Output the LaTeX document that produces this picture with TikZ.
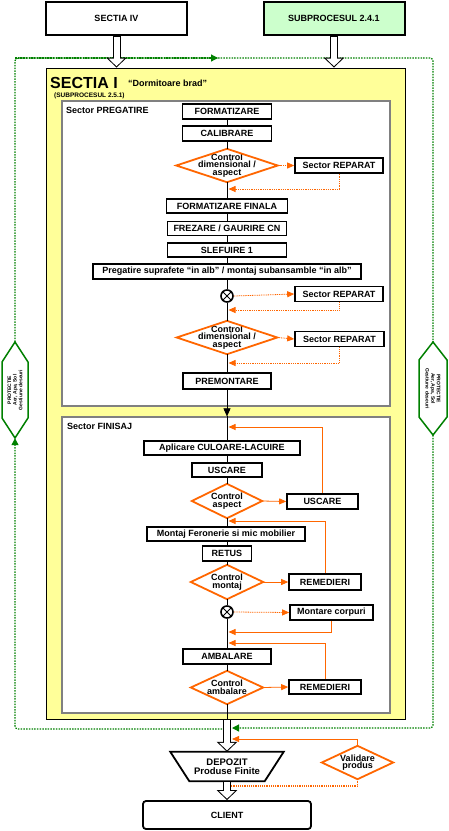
\documentclass[tikz,border=0pt]{standalone}
\usepackage{fontspec}
\setmainfont{Liberation Sans}
\usetikzlibrary{arrows.meta,calc}
\definecolor{oc}{RGB}{255,102,0}
\definecolor{gc}{RGB}{0,128,0}
\definecolor{yel}{RGB}{255,255,153}
\definecolor{lgreen}{RGB}{204,255,204}
\newcommand{\hollowarr}[2]{%
 \draw[line width=8pt, -{Triangle[length=10pt,width=20pt]}] (#1) -- (#2);
 \draw[line width=6pt, white, shorten <=1pt, shorten >=1.41pt, -{Triangle[length=7.6pt,width=15.2pt]}] (#1) -- (#2);}
\begin{document}
\begin{tikzpicture}[x=1pt,y=-1pt,
 fb/.style={font=\fontsize{9}{9}\selectfont\bfseries},
 pbox/.style={draw=black, line width=1.6pt, fill=white, inner sep=0pt, minimum height=15pt, fb},
 dia/.style={inner sep=0pt, align=center, font=\fontsize{9}{7.5}\selectfont\bfseries},
 odia/.style={draw=oc, line width=1.8pt, line join=miter},
 xcirc/.style={circle, draw=black, line width=1.6pt, fill=white, minimum size=12pt, inner sep=0pt},
 mline/.style={draw=black, line width=0.6pt},
 oarr/.style={draw=oc, line width=0.8pt, -{Triangle[length=7pt,width=6pt]}},
 odot/.style={oarr, dash pattern=on 1pt off 0.8pt},
 gline/.style={draw=gc, line width=1.2pt, dash pattern=on 1.5pt off 1.2pt, rounded corners=3pt},
 garr/.style={gline, -{Triangle[length=7pt,width=7pt]}},
 sector/.style={draw=gray, line width=1.2pt, fill=white, inner sep=0pt},
 topbox/.style={draw=black, line width=2pt, inner sep=0pt, minimum width=141pt, minimum height=33pt, fb},
 hextext/.style={inner sep=0pt, minimum width=96pt, minimum height=26pt, align=center, font=\fontsize{5}{5.6}\selectfont\bfseries},
]
\useasboundingbox (0,0) rectangle (448,831);

% hexagons
\filldraw[fill=white, draw=gc, line width=1.5pt] (15,342) -- (28,362) -- (28,418) -- (15,438) -- (2,418) -- (2,362) -- cycle;
\filldraw[fill=white, draw=gc, line width=1.5pt] (433,342) -- (447,360) -- (447,417) -- (433,435) -- (419,417) -- (419,360) -- cycle;
\node[hextext, rotate=90] (hexL) at (15,390) {PROTECTIE\\Aer, Apa, Sol\\Gestiune deseuri};
\node[hextext, rotate=-90, minimum width=93pt] (hexR) at (433,388.5) {PROTECTIE\\Aer, Apa, Sol\\Gestiune deseuri};

% top boxes
\node[topbox, fill=white] (s4) at (116.5,18.5) {SECTIA IV};
\node[topbox, fill=lgreen] (s241) at (334,18.5) {SUBPROCESUL 2.4.1};

% main section
\node[draw=black, line width=0.8pt, fill=yel, inner sep=0pt, minimum width=359pt, minimum height=651pt] (secI) at (225.5,393.5) {};
\node[anchor=base west, inner sep=0pt, font=\fontsize{16}{16}\selectfont\bfseries] (t1) at (50,88) {SECTIA I};
\node[anchor=base west, inner sep=0pt, font=\fontsize{9}{9}\selectfont\bfseries] (t2) at (128,86) {“Dormitoare brad”};
\node[anchor=west, inner sep=0pt, font=\fontsize{6.5}{6.5}\selectfont\bfseries] (t3) at (54,96) {(SUBPROCESUL 2.5.1)};

\node[sector, minimum width=328pt, minimum height=305pt] (secP) at (226,253.5) {};
\node[sector, minimum width=328pt, minimum height=296pt] (secF) at (226,565) {};
\node[anchor=west, inner sep=0pt, fb] (lp) at (66,110.5) {Sector PREGATIRE};
\node[anchor=west, inner sep=0pt, fb] (lf) at (67,426.5) {Sector FINISAJ};

% PREGATIRE
\node[pbox, minimum width=89pt] (fmt) at (227,111.5) {FORMATIZARE};
\node[pbox, minimum width=89pt] (cal) at (227,133.5) {CALIBRARE};
\node[dia, minimum width=101pt, minimum height=33pt] (d1) at (227,165.5) {Control\\dimensional /\\aspect};
\node[pbox, minimum width=88pt] (rep1) at (339,165.5) {Sector REPARAT};
\node[pbox, minimum width=121pt, minimum height=14pt] (ffin) at (227,206) {FORMATIZARE FINALA};
\node[pbox, minimum width=119pt, minimum height=14pt] (frez) at (227,228.5) {FREZARE / GAURIRE CN};
\node[pbox, minimum width=119pt, minimum height=14pt] (slef) at (227,250) {SLEFUIRE 1};
\node[pbox, minimum width=268pt] (preg) at (227,271.5) {Pregatire suprafete “in alb” / montaj subansamble “in alb”};
\node[xcirc] (c1) at (227,296) {};
\node[pbox, minimum width=88pt] (rep2) at (339,294) {Sector REPARAT};
\node[dia, minimum width=100pt, minimum height=33pt] (d2) at (227,337.5) {Control\\dimensional /\\aspect};
\node[pbox, minimum width=89pt] (rep3) at (339.5,339) {Sector REPARAT};
\node[pbox, minimum width=88pt, minimum height=16pt] (prem) at (227,381) {PREMONTARE};

% FINISAJ
\node[pbox, minimum width=156pt, minimum height=14pt] (aplic) at (222,448) {Aplicare CULOARE-LACUIRE};
\node[pbox, minimum width=70pt, minimum height=14pt] (usc) at (227,470) {USCARE};
\node[dia, minimum width=70pt, minimum height=34pt] (d3) at (227,501) {Control\\aspect};
\node[pbox, minimum width=71pt] (uscR) at (322.5,501.5) {USCARE};
\node[pbox, minimum width=158pt, minimum height=14pt] (mont) at (226,534) {Montaj Feronerie si mic mobilier};
\node[pbox, minimum width=49pt] (ret) at (227,553.5) {RETUS};
\node[dia, minimum width=72pt, minimum height=34pt] (d4) at (227,582) {Control\\montaj};
\node[pbox, minimum width=72pt, minimum height=16pt] (rem1) at (325,582) {REMEDIERI};
\node[xcirc] (c2) at (227,612) {};
\node[pbox, minimum width=83pt] (mc) at (331.5,612.5) {Montare corpuri};
\node[pbox, minimum width=88pt] (amb) at (227,656.5) {AMBALARE};
\node[dia, minimum width=72pt, minimum height=33pt] (d5) at (227,687.5) {Control\\ambalare};
\node[pbox, minimum width=72pt, minimum height=14pt] (rem2) at (325,687) {REMEDIERI};

% bottom
\node[inner sep=0pt, minimum width=113pt, minimum height=29pt, align=center, font=\fontsize{9.5}{9.5}\selectfont\bfseries] (dep) at (227,766.5) {DEPOZIT\\Produse Finite};
\draw[line width=1.8pt, line join=miter] (dep.north west) -- (dep.north east) -- ([xshift=-19pt]dep.south east) -- ([xshift=19pt]dep.south west) -- cycle;
\node[draw=black, line width=1.8pt, rounded corners=3pt, fill=white, inner sep=0pt, minimum width=168pt, minimum height=28pt, fb] (cli) at (227,815) {CLIENT};
\node[dia, minimum width=71pt, minimum height=33pt] (val) at (357.5,762.5) {Validare\\produs};

% diamonds outlines
\foreach \n in {d1,d2,d3,d4,d5,val}
  \draw[odia] (\n.west) -- (\n.north) -- (\n.east) -- (\n.south) -- cycle;
% crosses
\foreach \n in {c1,c2} {
  \draw[line width=1pt] (\n.45) -- (\n.225);
  \draw[line width=1pt] (\n.135) -- (\n.-45);
}

% main line
\draw[mline] (fmt.south) -- (cal.north);
\draw[mline] (cal.south) -- (d1.north);
\draw[mline] (d1.south) -- (ffin.north);
\draw[mline] (ffin.south) -- (frez.north);
\draw[mline] (frez.south) -- (slef.north);
\draw[mline] (slef.south) -- (preg.north);
\draw[mline] (preg.south) -- (c1.north);
\draw[mline] (c1.south) -- (d2.north);
\draw[mline] (d2.south) -- (prem.north);
\draw[mline, -{Triangle[length=8pt,width=7pt]}] (prem.south) -- (prem.south |- secF.north);
\draw[mline] (usc.north |- secF.north) -- (usc.north |- aplic.north);
\draw[mline] (usc.north |- aplic.south) -- (usc.north);
\draw[mline] (usc.south) -- (d3.north);
\draw[mline] (d3.south) -- (d3.south |- mont.north);
\draw[mline] (ret.north |- mont.south) -- (ret.north);
\draw[mline] (ret.south) -- (d4.north);
\draw[mline] (d4.south) -- (c2.north);
\draw[mline] (c2.south) -- (amb.north);
\draw[mline] (amb.south) -- (d5.north);
\draw[mline] (d5.south) -- (d5.south |- secI.south);

% return coordinates
\coordinate (r1) at (228.5,189);
\coordinate (r2) at (228.5,310);
\coordinate (r3) at (228.5,363);
\coordinate (r4) at (228.5,427);
\coordinate (r5) at (228.5,521);
\coordinate (r6) at (228.5,632);
\coordinate (r7) at (228.5,643);

% orange connectors
\draw[odot] (d1.east) -- (rep1.west);
\draw[odot] (rep1.south) |- (r1);
\draw[odot] (c1.east) -- (rep2.west);
\draw[odot] (rep2.south) |- (r2);
\draw[odot] (d2.east) -- (rep3.west);
\draw[odot] (rep3.south) |- (r3);
\draw[oarr] (d3.east) -- (uscR.west);
\draw[oarr] (uscR.north) |- (r4);
\draw[oarr] (d4.east) -- (rem1.west);
\draw[oarr] (rem1.north) |- (r5);
\draw[odot] (c2.east) -- (mc.west);
\draw[oarr] (mc.south) |- (r6);
\draw[oarr] (d5.east) -- (rem2.west);
\draw[oarr] (rem2.north) |- (r7);

% green loop
\coordinate (gB1) at (222,729);
\coordinate (gB2) at (232,728);
\coordinate (gT) at (218,58);
\draw[garr] (gB1) -- (15,729) -- (hexL.west);
\draw[gline] (hexL.east) -- (15,58) -- (gT);
\draw[garr] (15,58) -- (gT);
\draw[gline] (gT) -- (433,58) -- (hexR.west);
\draw[garr] (hexR.east) -- (433,728) -- (gB2);

% validation
\coordinate (v1) at (232,739);
\coordinate (v2) at (231,786);
\draw[oarr] (val.north) |- (v1);
\draw[draw=oc, line width=1.2pt, dash pattern=on 1.2pt off 1pt] (val.south) |- (v2);

% hollow arrows
\hollowarr{s4.south}{s4.south |- secI.north}
\hollowarr{s241.south}{s241.south |- secI.north}
\hollowarr{d5.south |- secI.south}{dep.north}
\hollowarr{dep.south}{cli.north}
\end{tikzpicture}
\end{document}
